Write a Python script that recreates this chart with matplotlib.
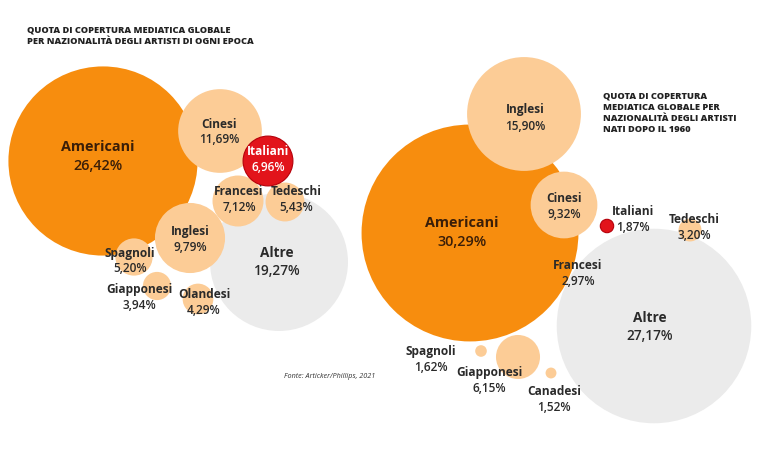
import matplotlib
matplotlib.use("Agg")
import matplotlib.pyplot as plt
from matplotlib.patches import Circle

# ---------------- data ----------------
left_names = ["Americani", "Cinesi", "Italiani", "Francesi", "Tedeschi",
              "Inglesi", "Altre", "Spagnoli", "Giapponesi", "Olandesi"]
left_values = [26.42, 11.69, 6.96, 7.12, 5.43, 9.79, 19.27, 5.20, 3.94, 4.29]

right_names = ["Americani", "Inglesi", "Cinesi", "Italiani", "Tedeschi",
               "Francesi", "Altre", "Spagnoli", "Giapponesi", "Canadesi"]
right_values = [30.29, 15.90, 9.32, 1.87, 3.20, 2.97, 27.17, 1.62, 6.15, 1.52]

title_left = "QUOTA DI COPERTURA MEDIATICA GLOBALE\nPER NAZIONALITÀ DEGLI ARTISTI DI OGNI EPOCA"
title_right = "QUOTA DI COPERTURA\nMEDIATICA GLOBALE PER\nNAZIONALITÀ DEGLI ARTISTI\nNATI DOPO IL 1960"
source = "Fonte: Articker/Phillips, 2021"

# ---------------- layout (pixel space) ----------------
K = 3.58  # radius in px per percentage point

left_centers = [(103, 162), (220, 132), (268, 162), (238, 202), (285, 203),
                (190, 239), (279, 263), (134, 258), (157, 287), (198, 300)]
left_labels = [(98, 156.5), (219, 132), (268, 159.5), (239, 199.5), (296, 199.5),
               (190, 239.5), (277, 262), (130, 261), (139, 298), (204, 302.5)]

right_centers = [(470, 234), (524, 115), (564, 206), (607, 227), (690, 231),
                 (562, 265), (654, 327), (481, 352), (518, 358), (551, 374)]
right_labels = [(462, 232.5), (525, 118), (564, 206.5), (633, 219.5), (694, 227.5),
                (578, 274), (650, 327.5), (431, 360), (489, 380.5), (554, 399.5)]

DARK = "#F78D0E"
LIGHT = "#FCCC96"
RED = "#E2141B"
GRAY = "#EBEBEB"
TXT = "#2A2A2A"
BROWN = "#3A1E08"


def style(name):
    if name == "Americani":
        return DARK, BROWN, 1
    if name == "Altre":
        return GRAY, TXT, 0
    if name == "Italiani":
        return RED, "white", 3
    return LIGHT, TXT, 2


def fmt(v):
    return f"{v:.2f}".replace(".", ",") + "%"


fig = plt.figure(figsize=(7.68, 4.64), dpi=100)
ax = fig.add_axes([0, 0, 1, 1])
ax.set_xlim(0, 768)
ax.set_ylim(464, 0)
ax.axis("off")

FONT = "Open Sans"


def draw(names, values, centers, labels, italian_outside=False):
    for n, v, c, lp in zip(names, values, centers, labels):
        fc, tc, z = style(n)
        r = K * v
        if n == "Francesi" and italian_outside:
            z = 0.5
        ec = "#B5000A" if n == "Italiani" else "none"
        ax.add_patch(Circle(c, r, facecolor=fc, edgecolor=ec, lw=0.8, zorder=z))
        if italian_outside and n == "Italiani":
            tc = TXT
        if n == "Americani":
            fs, off = 10.4, 9.5
        elif n == "Altre":
            fs, off = 9.8, 9.0
        else:
            fs, off = 8.6, 8.0
        ax.text(lp[0], lp[1] - off, n, ha="center", va="center", fontsize=fs,
                fontweight="bold", color=tc, family=FONT, zorder=10)
        ax.text(lp[0], lp[1] + off, fmt(v), ha="center", va="center", fontsize=fs,
                fontweight="semibold", color=tc, family=FONT, zorder=10)


draw(left_names, left_values, left_centers, left_labels, False)
draw(right_names, right_values, right_centers, right_labels, True)

ax.text(27, 26, title_left, ha="left", va="top", fontsize=6.7, fontweight="heavy",
        color="#222222", family=FONT, linespacing=1.3)
ax.text(603, 92, title_right, ha="left", va="top", fontsize=6.7, fontweight="heavy",
        color="#222222", family=FONT, linespacing=1.3)
ax.text(284, 377, source, ha="left", va="center", fontsize=5.2, color="#333333",
        family=FONT, style="italic")

fig.savefig("out.png", dpi=100)
